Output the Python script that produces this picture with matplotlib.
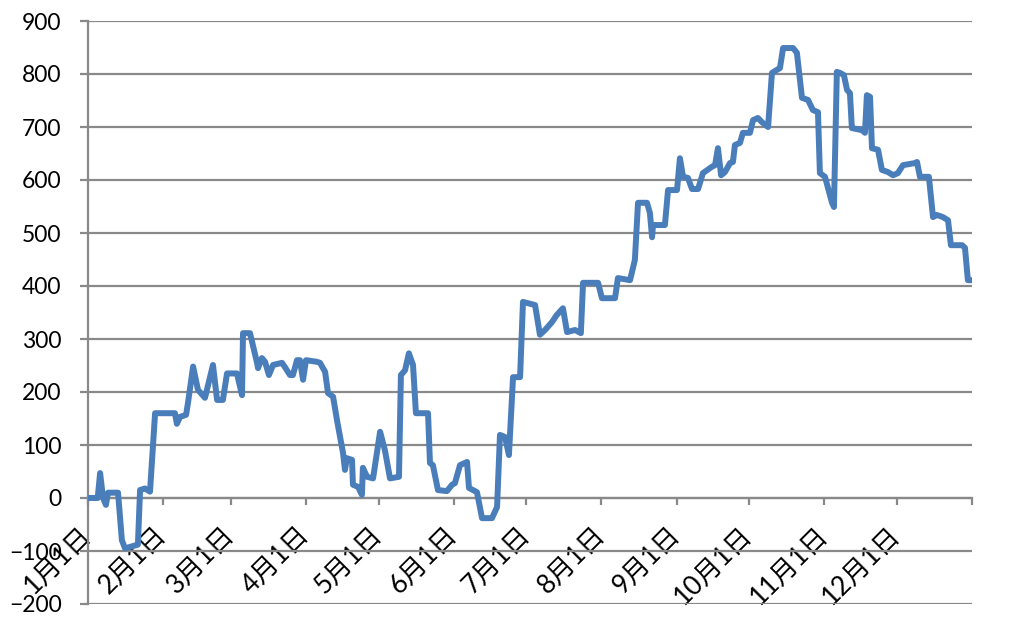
import matplotlib
matplotlib.use('Agg')
import matplotlib.pyplot as plt

# days since Jan 1 and the plotted value
days = [0, 2, 4, 5.0, 6.2, 7.4, 8.3, 12.4, 14.0, 15.3, 20.6, 21.5, 23.5, 25.6,
        27.7, 35.9, 36.7, 38.0, 40.5, 41.3, 43.4, 45.4, 48.3, 51.6, 53.3, 55.7,
        57.4, 61.5, 63.6, 64.0, 66.9, 69.8, 70.2, 71.8, 73.1, 74.7, 76.4, 80.1,
        81.3, 83.4, 84.6, 86.3, 87.5, 88.8, 90.0, 94.5, 95.8, 97.9, 99.1, 101.2,
        102.8, 105.3, 106.1, 106.9, 109.0, 109.4, 111.5, 113.1, 113.5, 115.2,
        117.7, 120.6, 122.6, 124.7, 128.4, 129.2, 130.9, 132.5, 134.2, 135.4,
        140.4, 141.2, 142.4, 144.5, 148.2, 150.3, 151.5, 153.6, 156.5, 157.3,
        160.6, 162.7, 166.8, 168.9, 170.1, 172.2, 173.8, 175.5, 178.4, 179.6,
        184.6, 186.6, 188.7, 191.6, 193.5, 194.5, 196.1, 197.8, 201.1, 203.5, 204.4, 210.6,
        212.2, 217.6, 218.8, 223.8, 225.8, 227.1, 230.8, 232.0, 232.9, 233.3,
        238.2, 239.5, 243.2, 244.4, 245.7, 247.7, 249.4, 251.9, 253.9, 257.6,
        258.9, 260.1, 261.4, 263.0, 265.1, 266.3, 267.1, 269.2, 270.4, 273.3,
        274.6, 276.6, 278.3, 280.8, 282.4, 284.5, 285.7, 287.0, 291.1, 292.7,
        294.8, 297.3, 299.3, 301.4, 302.2, 304.3, 307.2, 308.0, 309.2, 310.5,
        312.1, 313.4, 314.6, 315.4, 319.6, 320.8, 321.6, 322.9, 323.7, 326.2,
        327.8, 330.3, 332.4, 334.4, 336.5, 341.5, 342.3, 343.5, 347.2, 348.9,
        350.5, 353.0, 355.1, 356.3, 360.9, 362.1, 363.3, 365.0]
values = [0, 0, 0, 47, 0, -13, 10, 10, -80, -95, -88, 15, 18, 12,
          160, 160, 140, 153, 157, 180, 248, 204, 189, 251, 185, 185,
          235, 235, 194, 311, 311, 255, 245, 264, 257, 232, 251, 255,
          247, 232, 232, 260, 260, 223, 260, 257, 255, 238, 198, 191,
          147, 85, 53, 75, 72, 25, 21, 6, 57, 40,
          37, 125, 90, 37, 40, 232, 241, 273, 251, 160,
          160, 66, 62, 15, 13, 25, 28, 62, 68, 19,
          11, -38, -38, -17, 119, 115, 81, 228, 228, 370,
          364, 308, 317, 332, 345, 350, 358, 313, 317, 311, 406, 406,
          377, 377, 415, 411, 449, 557, 557, 538, 492, 515,
          515, 581, 581, 641, 606, 604, 583, 583, 613, 625,
          628, 660, 609, 615, 632, 634, 666, 670, 689, 689,
          713, 717, 709, 700, 802, 808, 811, 849, 849, 840,
          755, 751, 732, 728, 613, 606, 557, 549, 804, 802,
          798, 770, 764, 698, 694, 689, 760, 757, 660, 657,
          619, 615, 609, 613, 628, 632, 634, 606, 606, 530,
          534, 530, 524, 477, 477, 472, 411, 411]

month_starts = [0, 31, 59, 90, 120, 151, 181, 212, 243, 273, 304, 334, 365]
month_labels = ['1月1日', '2月1日', '3月1日', '4月1日', '5月1日', '6月1日',
                '7月1日', '8月1日', '9月1日', '10月1日', '11月1日', '12月1日', '']
y_ticks = list(range(-200, 1000, 100))

GRAY = '#898989'
LINE = '#4a7ebb'

plt.rcParams['font.family'] = ['Lato', 'Noto Sans CJK JP', 'DejaVu Sans']
plt.rcParams['font.size'] = 16.5

fig = plt.figure(figsize=(10.24, 6.29), dpi=100)
ax = fig.add_axes([88 / 1024, 1 - 604 / 629, (972 - 88) / 1024, (604 - 21) / 629])

ax.plot(days, values, color=LINE, lw=4.3, solid_joinstyle='round',
        solid_capstyle='round', zorder=3)

ax.set_xlim(0, 365)
ax.set_ylim(-200, 900)
ax.set_yticks(y_ticks)
ax.set_xticks(month_starts)
ax.set_xticklabels(month_labels)

ax.grid(True, axis='y', color=GRAY, lw=1.6, zorder=0)
ax.set_axisbelow(True)

for side in ('top', 'right'):
    ax.spines[side].set_visible(False)
ax.spines['left'].set_color(GRAY)
ax.spines['left'].set_linewidth(1.6)
ax.spines['bottom'].set_position(('data', 0))
ax.spines['bottom'].set_color(GRAY)
ax.spines['bottom'].set_linewidth(1.6)

ax.tick_params(axis='y', length=6, width=1.6, color=GRAY, pad=13, labelcolor='black')
ax.tick_params(axis='x', length=5, width=1.6, color=GRAY, pad=19, labelcolor='black',
               labelsize=19)

for lab in ax.get_xticklabels():
    lab.set_rotation(45)
    lab.set_rotation_mode('anchor')
    lab.set_ha('right')
    lab.set_va('center')

plt.savefig('out.png', dpi=100)
